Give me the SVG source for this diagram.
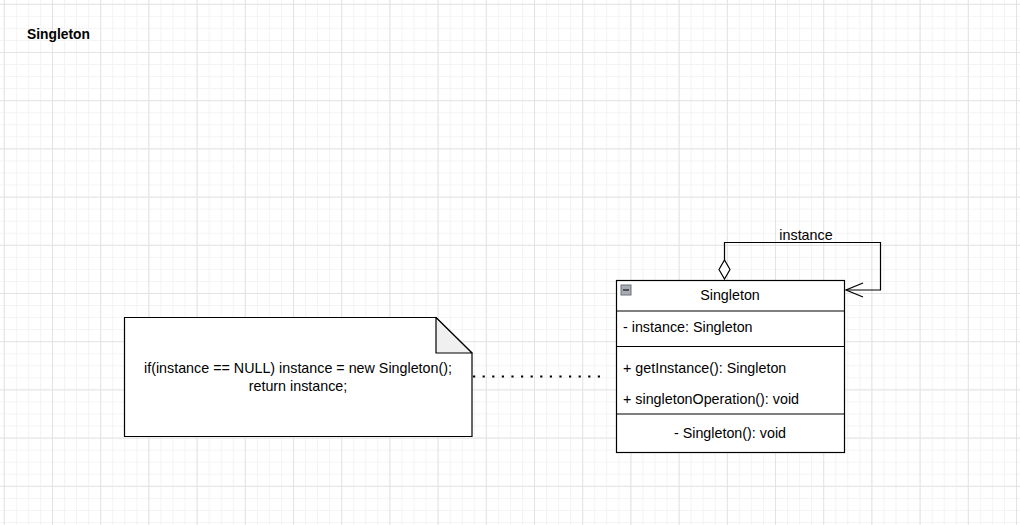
<svg xmlns="http://www.w3.org/2000/svg" width="1020" height="525" viewBox="0 0 1020 525">
<defs>
<pattern id="minor" x="3.8" y="3.8" width="12.05" height="12.05" patternUnits="userSpaceOnUse">
<path d="M0 0.5H12.05M0.5 0V12.05" fill="none" stroke="#f3f3f3" stroke-width="1"/>
</pattern>
<pattern id="major" x="3.8" y="3.8" width="48.2" height="48.2" patternUnits="userSpaceOnUse">
<path d="M0 0.5H48.2M0.5 0V48.2" fill="none" stroke="#e3e3e3" stroke-width="1"/>
</pattern>
<marker id="openArrow" markerUnits="userSpaceOnUse" markerWidth="20" markerHeight="18" refX="19" refY="8" orient="auto" viewBox="0 0 20 16">
<path d="M2 1L19 8L2 15" fill="none" stroke="#000" stroke-width="1.2"/>
</marker>
</defs>
<style>
.t{font-family:"Liberation Sans",Arial,sans-serif;font-size:14.3px;fill:#000}
.c{text-anchor:middle}
.box{fill:#fff;stroke:#000;stroke-width:1.2}
.ln{fill:none;stroke:#000;stroke-width:1.2}
</style>
<rect width="1020" height="525" fill="#fff"/>
<rect width="1020" height="525" fill="url(#minor)"/>
<rect width="1020" height="525" fill="url(#major)"/>

<g id="title">
<text class="t" x="27" y="39" font-weight="bold" style="font-size:13.8px">Singleton</text>
</g>

<g id="singleton-class">
<rect class="box" x="616.5" y="280.5" width="228" height="172"/>
<path class="ln" d="M616.5 311H844.5M616.5 346.5H844.5M616.5 414H844.5"/>
<rect x="621" y="285" width="10" height="10" fill="#a8acb4" stroke="#6d7178" stroke-width="1"/>
<path d="M623 290H629" stroke="#333" stroke-width="1.5"/>
<text class="t c" x="730" y="300">Singleton</text>
<text class="t" x="623" y="332">- instance: Singleton</text>
<text class="t" x="623" y="373">+ getInstance(): Singleton</text>
<text class="t" x="623" y="404">+ singletonOperation(): void</text>
<text class="t c" x="730" y="438">- Singleton(): void</text>
</g>

<g id="note">
<path class="box" d="M124.5 317.5H436L472 353V436.5H124.5Z"/>
<path d="M436 317.5V353H472Z" fill="#f0f0f0" stroke="#000" stroke-width="1.2" stroke-linejoin="round"/>
<text class="t c" x="298" y="373">if(instance == NULL) instance = new Singleton();</text>
<text class="t c" x="298" y="391">return instance;</text>
</g>

<g id="connectors">
<path class="ln" d="M724.5 261V242.5H880.5V290H846" marker-end="url(#openArrow)"/>
<path d="M724.5 260L730 269.5L724.5 279L719 269.5Z" fill="#fff" stroke="#000" stroke-width="1.2"/>
<text class="t c" x="806" y="240">instance</text>
<path d="M473 376.5H600" fill="none" stroke="#000" stroke-width="2.2" stroke-dasharray="2.2 7.4"/>
</g>
</svg>
